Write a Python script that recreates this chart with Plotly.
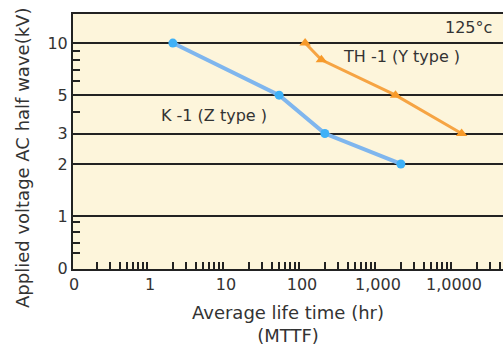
import plotly.graph_objects as go

# Data
k1_life = [2, 50, 200, 2000]
k1_kv = [10, 5, 3, 2]
th1_life = [110, 180, 1700, 12600]
th1_kv = [10, 8, 5, 3]

x_tickvals = [0.1, 1, 10, 100, 1000, 10000]
x_ticktext = ["0", "1", "10", "100", "1,000", "1,0000"]
x_minor = [m * d for d in [0.1, 1, 10, 100, 1000, 10000] for m in range(2, 10)]

y_tickvals = [0.496, 1, 2, 3, 5, 10]
y_ticktext = ["0", "1", "2", "3", "5", "10"]
y_minor = [0.61, 0.70, 0.81, 0.93, 4, 6, 7, 8, 9]

FONT = "DejaVu Sans, Verdana, sans-serif"
TXT = "#333333"

# plot-area pixel box (for placing text labels)
L, R, T, B = 73, 503, 14, 269


def px(p):
    return (p - L) / (R - L)


def py(p):
    return (B - p) / (B - T)


fig = go.Figure()
fig.add_trace(go.Scatter(
    x=k1_life, y=k1_kv, mode="lines+markers",
    line=dict(color="#7fb6ee", width=4),
    marker=dict(color="#3fb1f7", size=9, symbol="circle"),
    showlegend=False))
fig.add_trace(go.Scatter(
    x=th1_life, y=th1_kv, mode="lines+markers",
    line=dict(color="#f6a443", width=3),
    marker=dict(color="#f79a2a", size=10, symbol="triangle-up"),
    showlegend=False))

labels = [
    ("TH -1 (Y type )", 401, 57, "center"),
    ("K -1 (Z type )", 214, 115, "center"),
    ("125°c", 494, 27, "right"),
]
for text, xp, yp, anc in labels:
    fig.add_annotation(x=px(xp), y=py(yp), xref="paper", yref="paper",
                       xanchor=anc, yanchor="middle", text=text, showarrow=False,
                       font=dict(family=FONT, size=16, color=TXT))

# y-axis title (placed as rotated text, slightly below the plot centre as in the reference)
fig.add_annotation(x=px(22), y=py(158), xref="paper", yref="paper",
                   xanchor="center", yanchor="middle", textangle=-90,
                   text="Applied voltage AC half wave(kV)", showarrow=False,
                   font=dict(family=FONT, size=18, color=TXT))

fig.update_xaxes(
    type="log", range=[-1.013, 4.645],
    tickmode="array", tickvals=x_tickvals, ticktext=x_ticktext,
    ticks="", showgrid=False, zeroline=False,
    showline=True, linecolor="#222", linewidth=2, mirror=True,
    tickfont=dict(family=FONT, size=16, color=TXT),
    minor=dict(tickmode="array", tickvals=x_minor, ticks="inside",
               ticklen=7, tickwidth=1.5, tickcolor="#222", showgrid=False),
    title=dict(text="Average life time (hr)<br>(MTTF)",
               font=dict(family=FONT, size=18, color=TXT), standoff=13),
)
fig.update_yaxes(
    type="log", range=[-0.306, 1.168],
    tickmode="array", tickvals=y_tickvals, ticktext=y_ticktext,
    ticks="", showgrid=True, gridcolor="#222", gridwidth=1.5, zeroline=False,
    showline=True, linecolor="#222", linewidth=2,
    tickfont=dict(family=FONT, size=16, color=TXT),
    minor=dict(tickmode="array", tickvals=y_minor, ticks="inside",
               ticklen=7, tickwidth=1.5, tickcolor="#222", showgrid=False),
)

fig.update_layout(
    width=503, height=346,
    margin=dict(l=L, r=503 - R, t=T, b=346 - B),
    plot_bgcolor="#fdf5db", paper_bgcolor="white",
)

fig.write_html("out.html")
